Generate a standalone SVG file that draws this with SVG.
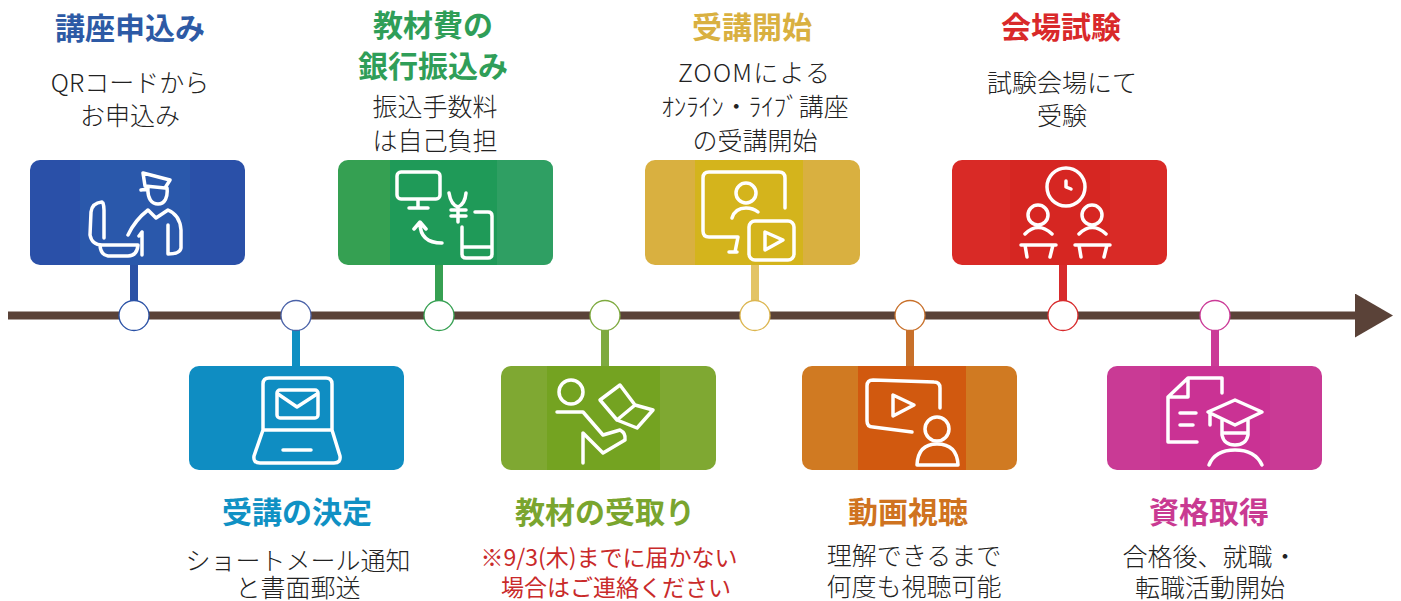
<svg xmlns="http://www.w3.org/2000/svg" width="1401" height="601" viewBox="0 0 1401 601">
<style>
text{font-family:"Noto Sans CJK JP","Noto Sans",sans-serif;text-anchor:middle}
.t{font-size:30px;font-weight:700}
.b{font-size:25px;fill:#222;font-weight:300}
.r{font-size:23px;fill:#c92a2a;font-weight:400}
.i{fill:none;stroke:#fff;stroke-width:3.5;stroke-linecap:round;stroke-linejoin:round}
.n{fill:#fff;stroke-width:1.3}
.c{stroke-width:8;fill:none}
</style>
<defs>
<marker id="ah" markerUnits="userSpaceOnUse" markerWidth="40" markerHeight="44" refX="1" refY="22" orient="auto"><path d="M0 0L38 22L0 44Z" fill="#5a4238"/></marker>
</defs>
<rect width="1401" height="601" fill="#fff"/>
<g id="connectors">
<line x1="8" y1="315.500" x2="1356" y2="315.500" stroke="#5a4238" stroke-width="8" marker-end="url(#ah)"/>
<path class="c" stroke="#2b52a6" d="M134 265V302"/>
<path class="c" stroke="#0f8fc2" d="M296 329V366"/>
<path class="c" stroke="#36a052" d="M439 265V302"/>
<path class="c" stroke="#7eaa3f" d="M605 329V366"/>
<path class="c" stroke="#e3c466" d="M755 265V302"/>
<path class="c" stroke="#c8702a" d="M910 329V366"/>
<path class="c" stroke="#d82a2c" d="M1063 265V302"/>
<path class="c" stroke="#cb3a97" d="M1215 329V366"/>
</g>
<g id="step1">
<rect x="30" y="160" width="215" height="105" rx="10" fill="#2a50a8"/><rect x="80" y="160" width="110" height="105" fill="#2a58ab"/>
<path class="i" d="M143 173L170 180L165 188L145 186ZM148 187C147 199 152 204 158 204C165 204 168 197 167 188M141 190L148 189M102 202Q92 203 91 212L90 235Q92 245 102 245L138 245Q137 256 128 256L108 256Q101 255 100 246M103 203Q104 206 104 210L104 238M128 235Q135 220 148 210L156 218L168 210Q180 215 181 230L181 248Q180 254 168 254L168 225M142 232V255M139 236L142 232"/>
<text class="t" x="130" y="39" fill="#2d5aa5">講座申込み</text>
<text class="b" x="130" y="92">QRコードから</text>
<text class="b" x="130" y="125">お申込み</text>
<circle class="n" cx="134" cy="315.500" r="15" stroke="#2b52a6"/>
</g>
<g id="step2">
<rect x="189" y="366" width="215" height="104" rx="10" fill="#0f8dc2"/>
<path class="i" d="M263 430V384Q263 378 269 378H326Q332 378 332 384V430M263 430H332L340 456Q341 463 334 463H260Q253 463 254 456ZM283 450H311"/>
<rect class="i" x="277" y="390" width="41" height="28" rx="3"/><path class="i" d="M278 394L297 407L317 394"/>
<text class="t" x="297" y="523" fill="#1091c4">受講の決定</text>
<text class="b" x="298" y="570">ショートメール通知</text>
<text class="b" x="298" y="597">と書面郵送</text>
<circle class="n" cx="296" cy="315.500" r="15" stroke="#4a62a8"/>
</g>
<g id="step3">
<rect x="338" y="160" width="215" height="105" rx="10" fill="#35a052"/><rect x="390" y="160" width="107" height="105" fill="#1f9a58"/><path d="M497 160H543Q553 160 553 170V255Q553 265 543 265H497Z" fill="#2f9f63"/>
<rect class="i" x="397" y="172" width="43" height="27" rx="4"/><path class="i" d="M418 200V208M409 208H428M414 229L420 222L426 229M420 223Q420 243 442 243M449 193Q451 205 458 207Q465 204 466 193M458 207V222M451 210H466M451 216H466M475 212H488Q492 212 492 216V254Q492 258 488 258H466Q462 258 462 254V227M462 247H492"/>
<text class="t" x="433" y="36" fill="#2f9e58">教材費の</text>
<text class="t" x="433" y="77" fill="#2f9e58">銀行振込み</text>
<text class="b" x="435" y="116">振込手数料</text>
<text class="b" x="435" y="150">は自己負担</text>
<circle class="n" cx="439" cy="315.500" r="15" stroke="#36a052"/>
</g>
<g id="step4">
<rect x="501" y="366" width="215" height="104" rx="10" fill="#7fa832"/><rect x="547" y="366" width="113" height="104" fill="#74a321"/>
<circle class="i" cx="571" cy="392" r="12"/><path class="i" d="M557 412H583L603 435L620 430Q626 433 625 440L603 453L583 433V463M620 385L600 400L617 420L635 405ZM635 405L653 410L637 428L617 420"/>
<text class="t" x="605" y="523" fill="#7aa52e">教材の受取り</text>
<text class="r" x="609" y="566">※9/3(木)までに届かない</text>
<text class="r" x="616" y="596">場合はご連絡ください</text>
<circle class="n" cx="605" cy="315.500" r="15" stroke="#7eaa3f"/>
</g>
<g id="step5">
<rect x="645" y="160" width="215" height="105" rx="10" fill="#d9b040"/><rect x="695" y="160" width="108" height="105" fill="#d4b41c"/>
<path class="i" d="M785 208V178Q785 172 779 172H709Q703 172 703 178V231Q703 237 709 237H738L735 252M729 252H737"/>
<circle class="i" cx="746" cy="193" r="10"/><path class="i" d="M732 218Q735 208 746 208Q753 208 758 212"/>
<rect class="i" x="749" y="221" width="45" height="39" rx="6"/><path class="i" d="M765 232V250L783 240Z"/>
<text class="t" x="752" y="38" fill="#d9b040">受講開始</text>
<text class="b" x="754" y="82" textLength="152">ZOOMによる</text>
<text class="b" x="755" y="116">ｵﾝﾗｲﾝ・ﾗｲﾌﾞ講座</text>
<text class="b" x="755" y="150">の受講開始</text>
<circle class="n" cx="755" cy="315.500" r="15" stroke="#dcb650"/>
</g>
<g id="step6">
<rect x="802" y="366" width="215" height="104" rx="10" fill="#d07a22"/><rect x="858" y="366" width="108" height="104" fill="#d1590f"/>
<path class="i" d="M940 408V388Q940 382 934 382L873 380Q867 380 867 386V421Q867 427 873 427L912 432M893 395V416L914 405Z"/>
<circle class="i" cx="937" cy="429" r="12"/><path class="i" d="M917 465Q918 444 937 444Q957 444 958 465Z"/>
<text class="t" x="908" y="523" fill="#cf7320">動画視聴</text>
<text class="b" x="914" y="565">理解できるまで</text>
<text class="b" x="914" y="596">何度も視聴可能</text>
<circle class="n" cx="910" cy="315.500" r="15" stroke="#c8702a"/>
</g>
<g id="step7">
<rect x="952" y="160" width="215" height="105" rx="10" fill="#d92a26"/><rect x="1010" y="160" width="100" height="105" fill="#d62622"/>
<circle class="i" cx="1066" cy="187" r="19"/><path class="i" d="M1066 181V187L1071 189"/>
<circle class="i" cx="1038" cy="215" r="10"/><path class="i" d="M1025 234Q1038 221 1052 234M1021 245H1056M1025 245L1027 257M1053 245L1050 257"/>
<circle class="i" cx="1092" cy="215" r="10"/><path class="i" d="M1079 234Q1092 221 1106 234M1075 245H1110M1079 245L1081 257M1107 245L1104 257"/>
<text class="t" x="1061" y="38" fill="#d9292a">会場試験</text>
<text class="b" x="1062" y="92">試験会場にて</text>
<text class="b" x="1062" y="125">受験</text>
<circle class="n" cx="1063" cy="315.500" r="15" stroke="#d82a2c"/>
</g>
<g id="step8">
<rect x="1107" y="366" width="215" height="104" rx="10" fill="#c93a95"/><rect x="1160" y="366" width="110" height="104" fill="#ca3294"/>
<path class="i" d="M1222 393V378H1188L1168 397V442H1197M1188 378V397H1168M1180 413H1196M1180 425H1193M1235 400L1262 412L1235 425L1208 412ZM1210 413V425M1222 420V435Q1224 445 1235 445Q1246 445 1248 435V420M1222 433H1248M1209 465Q1215 450 1235 450Q1255 450 1262 465"/>
<text class="t" x="1209" y="523" fill="#c93a92">資格取得</text>
<text class="b" x="1210" y="566">合格後、就職・</text>
<text class="b" x="1210" y="597">転職活動開始</text>
<circle class="n" cx="1215" cy="315.500" r="15" stroke="#cb3a97"/>
</g>
</svg>
